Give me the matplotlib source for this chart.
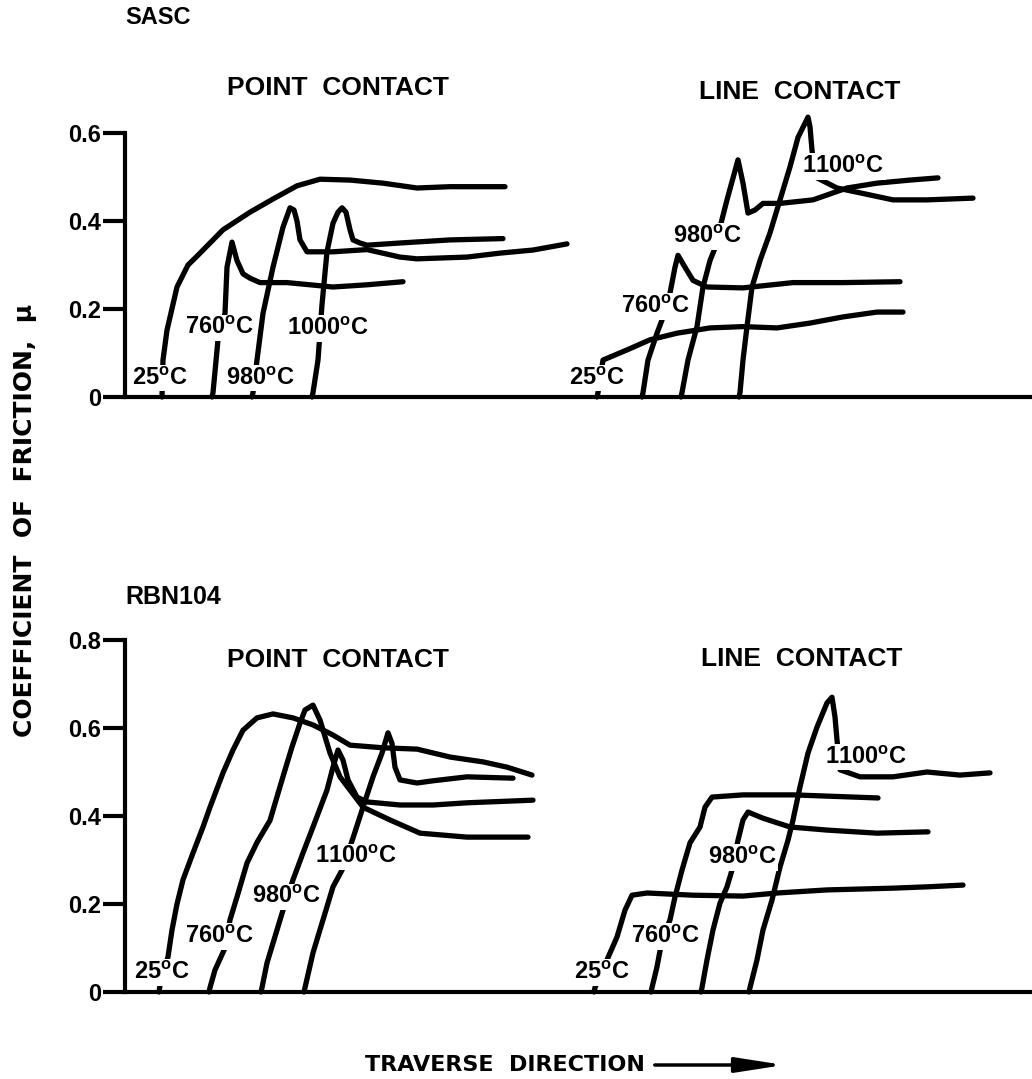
import matplotlib
matplotlib.use("Agg")
import matplotlib.pyplot as plt
from matplotlib.patches import FancyArrowPatch

plt.rcParams['font.family'] = ['Liberation Sans', 'DejaVu Sans']
plt.rcParams['font.weight'] = 'bold'
plt.rcParams['mathtext.fontset'] = 'custom'
plt.rcParams['mathtext.rm'] = 'Liberation Sans:bold'
plt.rcParams['mathtext.bf'] = 'Liberation Sans:bold'

# ---------------- data (x = traverse position, arbitrary units; mu = friction coeff)
# SASC, point contact
sasc_pt_25_x = [37, 38, 42, 52, 63, 72, 85, 98, 125, 148, 172, 195, 225, 258, 292, 325, 380]
sasc_pt_25_mu = [0.0, 0.084, 0.152, 0.25, 0.30, 0.32, 0.35, 0.38, 0.42, 0.45, 0.48, 0.495, 0.493, 0.486, 0.475, 0.478, 0.478]
sasc_pt_760_x = [87, 88, 93, 100, 102, 107, 112, 118, 125, 135, 162, 208, 242, 278]
sasc_pt_760_mu = [0.0, 0.01, 0.13, 0.19, 0.295, 0.352, 0.31, 0.28, 0.27, 0.26, 0.26, 0.25, 0.255, 0.262]
sasc_pt_980_x = [127, 128, 132, 138, 148, 158, 165, 169, 172, 175, 182, 208, 242, 275, 292, 342, 375, 408, 442]
sasc_pt_980_mu = [0.0, 0.01, 0.084, 0.19, 0.295, 0.386, 0.43, 0.425, 0.40, 0.357, 0.33, 0.33, 0.335, 0.318, 0.314, 0.318, 0.327, 0.334, 0.348]
sasc_pt_1000_x = [187, 188, 193, 197, 202, 208, 213, 217, 221, 225, 228, 235, 242, 275, 325, 378]
sasc_pt_1000_mu = [0.0, 0.01, 0.084, 0.21, 0.33, 0.395, 0.42, 0.43, 0.42, 0.38, 0.357, 0.35, 0.345, 0.35, 0.357, 0.36]

# SASC, line contact
sasc_ln_25_x = [472, 473, 478, 502, 525, 552, 585, 618, 652, 685, 718, 752, 778]
sasc_ln_25_mu = [0.0, 0.01, 0.084, 0.107, 0.13, 0.145, 0.157, 0.16, 0.157, 0.168, 0.182, 0.193, 0.193]
sasc_ln_760_x = [517, 518, 523, 532, 537, 545, 550, 553, 560, 568, 582, 618, 668, 718, 775]
sasc_ln_760_mu = [0.0, 0.01, 0.084, 0.145, 0.175, 0.236, 0.295, 0.322, 0.295, 0.265, 0.25, 0.248, 0.26, 0.26, 0.262]
sasc_ln_980_x = [556, 557, 563, 572, 578, 585, 592, 595, 602, 613, 618, 623, 630, 638, 655, 688, 722, 752, 785, 813]
sasc_ln_980_mu = [0.0, 0.01, 0.084, 0.16, 0.25, 0.31, 0.35, 0.386, 0.448, 0.539, 0.486, 0.418, 0.425, 0.44, 0.44, 0.448, 0.475, 0.486, 0.493, 0.498]
sasc_ln_1100_x = [614, 615, 618, 622, 627, 635, 645, 655, 665, 673, 683, 685, 687, 690, 692, 712, 735, 768, 802, 848]
sasc_ln_1100_mu = [0.0, 0.01, 0.084, 0.16, 0.25, 0.31, 0.373, 0.448, 0.523, 0.59, 0.636, 0.614, 0.561, 0.51, 0.498, 0.475, 0.464, 0.448, 0.448, 0.452]

# RBN104, point contact
rbn_pt_25_x = [34, 35, 43, 47, 52, 58, 68, 78, 85, 98, 108, 118, 132, 148, 168, 188, 208, 225, 258, 292, 325, 358, 382, 407]
rbn_pt_25_mu = [0.0, 0.015, 0.08, 0.141, 0.2, 0.255, 0.316, 0.375, 0.42, 0.498, 0.55, 0.595, 0.623, 0.632, 0.623, 0.607, 0.584, 0.561, 0.555, 0.552, 0.534, 0.523, 0.511, 0.493]
rbn_pt_760_x = [84, 85, 90, 100, 105, 112, 122, 132, 145, 157, 167, 175, 180, 188, 195, 205, 215, 238, 265, 295, 342, 403]
rbn_pt_760_mu = [0.0, 0.01, 0.05, 0.1, 0.164, 0.216, 0.293, 0.34, 0.39, 0.482, 0.557, 0.611, 0.641, 0.652, 0.618, 0.543, 0.489, 0.42, 0.391, 0.361, 0.352, 0.352]
rbn_pt_980_x = [136, 137, 142, 152, 158, 168, 178, 188, 202, 208, 213, 218, 223, 232, 242, 275, 308, 342, 408]
rbn_pt_980_mu = [0.0, 0.01, 0.066, 0.141, 0.186, 0.255, 0.316, 0.375, 0.459, 0.511, 0.55, 0.527, 0.482, 0.443, 0.432, 0.425, 0.425, 0.43, 0.436]
rbn_pt_1100_x = [179, 180, 188, 198, 208, 217, 228, 238, 248, 257, 263, 267, 270, 275, 292, 308, 342, 388]
rbn_pt_1100_mu = [0.0, 0.01, 0.089, 0.164, 0.239, 0.277, 0.35, 0.42, 0.489, 0.543, 0.589, 0.565, 0.511, 0.482, 0.475, 0.48, 0.489, 0.486]

# RBN104, line contact
rbn_ln_25_x = [469, 470, 482, 492, 500, 507, 522, 568, 618, 652, 702, 768, 802, 838]
rbn_ln_25_mu = [0.0, 0.01, 0.073, 0.125, 0.186, 0.22, 0.225, 0.22, 0.218, 0.225, 0.232, 0.236, 0.239, 0.243]
rbn_ln_760_x = [526, 527, 532, 537, 545, 550, 557, 565, 575, 580, 587, 618, 668, 753]
rbn_ln_760_mu = [0.0, 0.01, 0.057, 0.118, 0.164, 0.216, 0.277, 0.339, 0.375, 0.42, 0.443, 0.448, 0.448, 0.441]
rbn_ln_980_x = [576, 577, 582, 588, 595, 602, 607, 613, 618, 623, 638, 665, 702, 752, 803]
rbn_ln_980_mu = [0.0, 0.01, 0.073, 0.141, 0.202, 0.239, 0.277, 0.345, 0.391, 0.409, 0.395, 0.375, 0.368, 0.361, 0.364]
rbn_ln_1100_x = [624, 625, 632, 638, 647, 655, 663, 668, 675, 683, 692, 702, 707, 710, 712, 715, 735, 768, 802, 835, 865]
rbn_ln_1100_mu = [0.0, 0.01, 0.073, 0.141, 0.209, 0.284, 0.345, 0.391, 0.466, 0.543, 0.602, 0.657, 0.67, 0.625, 0.573, 0.505, 0.489, 0.489, 0.5, 0.493, 0.498]

# temperature labels: (text, x, mu)
sasc_labels = [("25", 35, 0.043), ("760", 94, 0.157), ("980", 135, 0.043), ("1000", 203, 0.155),
               ("25", 472, 0.043), ("760", 530, 0.205), ("980", 582, 0.364), ("1100", 718, 0.523)]
rbn_labels = [("25", 37, 0.045), ("760", 94, 0.127), ("980", 161, 0.216), ("1100", 231, 0.307),
              ("25", 477, 0.045), ("760", 540, 0.127), ("980", 617, 0.305), ("1100", 741, 0.534)]

sasc_yticks = [0, 0.2, 0.4, 0.6]
sasc_yticklabels = ["0", "0.2", "0.4", "0.6"]
rbn_yticks = [0, 0.2, 0.4, 0.6, 0.8]
rbn_yticklabels = ["0", "0.2", "0.4", "0.6", "0.8"]

sasc_curves = [(sasc_pt_25_x, sasc_pt_25_mu), (sasc_pt_760_x, sasc_pt_760_mu),
               (sasc_pt_980_x, sasc_pt_980_mu), (sasc_pt_1000_x, sasc_pt_1000_mu),
               (sasc_ln_25_x, sasc_ln_25_mu), (sasc_ln_760_x, sasc_ln_760_mu),
               (sasc_ln_980_x, sasc_ln_980_mu), (sasc_ln_1100_x, sasc_ln_1100_mu)]
rbn_curves = [(rbn_pt_25_x, rbn_pt_25_mu), (rbn_pt_760_x, rbn_pt_760_mu),
              (rbn_pt_980_x, rbn_pt_980_mu), (rbn_pt_1100_x, rbn_pt_1100_mu),
              (rbn_ln_25_x, rbn_ln_25_mu), (rbn_ln_760_x, rbn_ln_760_mu),
              (rbn_ln_980_x, rbn_ln_980_mu), (rbn_ln_1100_x, rbn_ln_1100_mu)]

# ---------------- figure
W, H = 1032, 1079
fig = plt.figure(figsize=(W / 100, H / 100), dpi=100)
fig.patch.set_facecolor("white")


def fx(px):
    return px / W


def fy(py):
    return 1 - py / H


def make_axes(y0_px, ytop_px, ymax, yticks, yticklabels, curves, labels):
    ax = fig.add_axes([fx(125), fy(y0_px), fx(W) - fx(125), (y0_px - ytop_px) / H])
    ax.set_xlim(0, 907)
    ax.set_ylim(0, ymax)
    for s in ("top", "right"):
        ax.spines[s].set_visible(False)
    for s in ("left", "bottom"):
        ax.spines[s].set_linewidth(3.0)
        ax.spines[s].set_capstyle("projecting")
    ax.set_xticks([])
    ax.set_yticks(yticks)
    ax.set_yticklabels(yticklabels)
    ax.tick_params(axis="y", direction="out", length=16, width=3, pad=1,
                   labelsize=17)
    for t in ax.get_yticklabels():
        t.set_fontweight("bold")
    ax.patch.set_alpha(0)
    for xs, ys in curves:
        ax.plot(xs, ys, color="black", lw=3.8, solid_capstyle="round",
                solid_joinstyle="round", clip_on=False, zorder=2)
    for txt, x, y in labels:
        ax.text(x, y, txt + r"$^{\mathrm{o}}$C", ha="center", va="center",
                fontsize=17, fontweight="bold", zorder=5,
                bbox=dict(boxstyle="square,pad=0.08", fc="white", ec="none"))
    return ax


ax1 = make_axes(397, 133, 0.6, sasc_yticks, sasc_yticklabels, sasc_curves, sasc_labels)
ax2 = make_axes(992, 640, 0.8, rbn_yticks, rbn_yticklabels, rbn_curves, rbn_labels)

# titles
fig.text(fx(125), fy(18), "SASC", fontsize=17, fontweight="bold", ha="left", va="center")
fig.text(fx(125), fy(597), "RBN104", fontsize=18, fontweight="bold", ha="left", va="center")
fig.text(fx(338), fy(88), "POINT  CONTACT", fontsize=19, fontweight="bold", ha="center", va="center")
fig.text(fx(800), fy(92), "LINE  CONTACT", fontsize=19, fontweight="bold", ha="center", va="center")
fig.text(fx(338), fy(660), "POINT  CONTACT", fontsize=19, fontweight="bold", ha="center", va="center")
fig.text(fx(802), fy(659), "LINE  CONTACT", fontsize=19, fontweight="bold", ha="center", va="center")

# y label
fig.text(fx(25), fy(520), "COEFFICIENT  OF  FRICTION,  \u03bc", rotation=90,
         fontsize=18, fontweight="bold", ha="center", va="center",
         family=["DejaVu Sans"])

# x label with arrow
fig.text(fx(645), fy(1065), "TRAVERSE  DIRECTION", fontsize=16, fontweight="bold",
         ha="right", va="center", family=["DejaVu Sans"])
arrow = FancyArrowPatch((fx(652), fy(1065)), (fx(787), fy(1065)),
                        transform=fig.transFigure,
                        arrowstyle="-|>,head_length=2.9,head_width=0.45",
                        mutation_scale=10, lw=2.5, color="black")
fig.add_artist(arrow)

fig.savefig("out.png", dpi=100, facecolor="white")
